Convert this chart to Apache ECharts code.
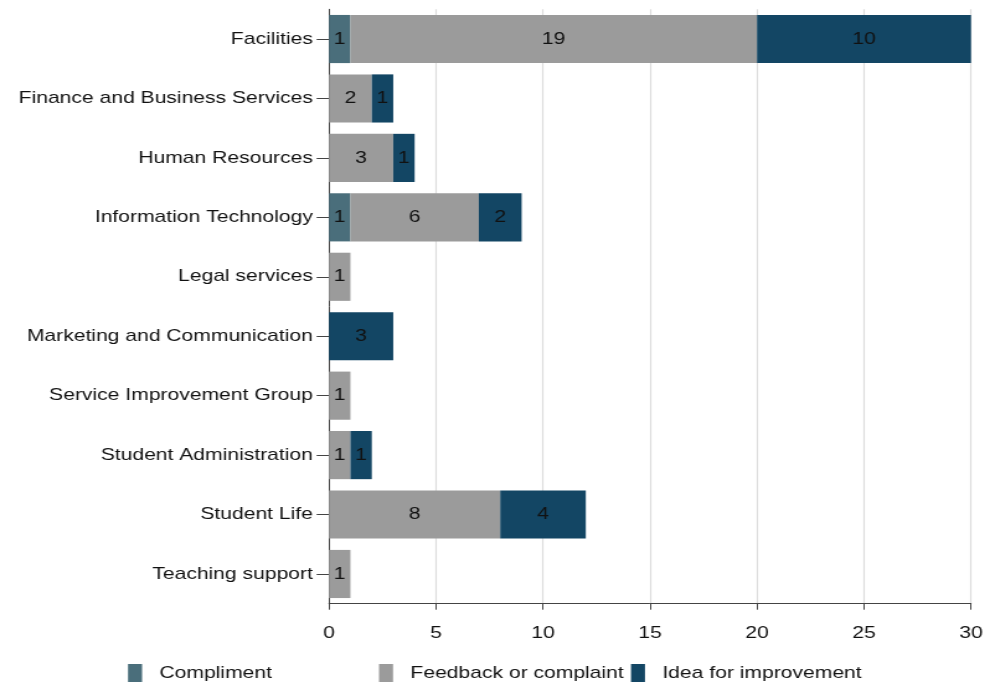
<!DOCTYPE html>
<html><head><meta charset="utf-8">
<script src="https://cdn.jsdelivr.net/npm/echarts@6/dist/echarts.min.js"></script>
<style>html,body{margin:0;padding:0;background:#fff;overflow:hidden}
#c{width:798px;height:688px;transform:scaleX(1.2406);transform-origin:0 0}</style>
</head><body><div id="c"></div>
<script>
const categories = ["Facilities","Finance and Business Services","Human Resources","Information Technology","Legal services","Marketing and Communication","Service Improvement Group","Student Administration","Student Life","Teaching support"];
const compliment = [1,0,0,1,0,0,0,0,0,0];
const feedback = [19,2,3,6,1,0,1,1,8,1];
const idea = [10,1,1,2,0,3,0,1,4,0];
const xTicks = [0,5,10,15,20,25,30];

const font = "'Liberation Sans', Arial, sans-serif";
const chart = echarts.init(document.getElementById('c'));
function ser(name, data, color) {
  return {
    name, type: 'bar', stack: 'a', data: data.map(v => v === 0 ? null : v),
    barCategoryGap: '19%',
    itemStyle: { color },
    label: { show: true, position: 'inside', color: '#111', fontSize: 17, fontFamily: font,
      formatter: p => p.value ? String(p.value) : '' },
    emphasis: { disabled: true }
  };
}
const legText = { fontSize: 17, color: '#111', fontFamily: font, padding: [0, 0, 0, 9] };
const legBase = { top: 664, padding: 0, itemWidth: 11.3, itemHeight: 18, textStyle: legText, icon: 'rect', itemStyle: { borderWidth: 0 } };
chart.setOption({
  animation: false,
  grid: { left: 265.2, right: 15.3, top: 9.3, bottom: 84.3, containLabel: false },
  legend: [
    Object.assign({ data: ['Compliment'], left: 103.2 }, legBase),
    Object.assign({ data: ['Feedback or complaint'], left: 305.5 }, legBase),
    Object.assign({ data: ['Idea for improvement'], left: 508.6 }, legBase)
  ],
  xAxis: {
    type: 'value', min: xTicks[0], max: xTicks[xTicks.length-1], interval: 5,
    axisLine: { show: true, lineStyle: { color: '#444', width: 1 } },
    axisTick: { show: true, length: 6, lineStyle: { color: '#444' } },
    axisLabel: { fontSize: 17, color: '#111', fontFamily: font, margin: 21 },
    splitLine: { show: true, lineStyle: { color: '#dcdcdc', width: 1.2 } }
  },
  yAxis: {
    type: 'category', data: categories, inverse: true,
    axisLine: { show: true, lineStyle: { color: '#444', width: 1 } },
    axisTick: { show: true, alignWithLabel: true, length: 10, lineStyle: { color: '#444' } },
    axisLabel: { fontSize: 17, color: '#111', fontFamily: font, margin: 13 }
  },
  series: [
    ser('Compliment', compliment, '#4a6e7b'),
    ser('Feedback or complaint', feedback, '#9b9b9b'),
    ser('Idea for improvement', idea, '#134664')
  ]
});
</script></body></html>
